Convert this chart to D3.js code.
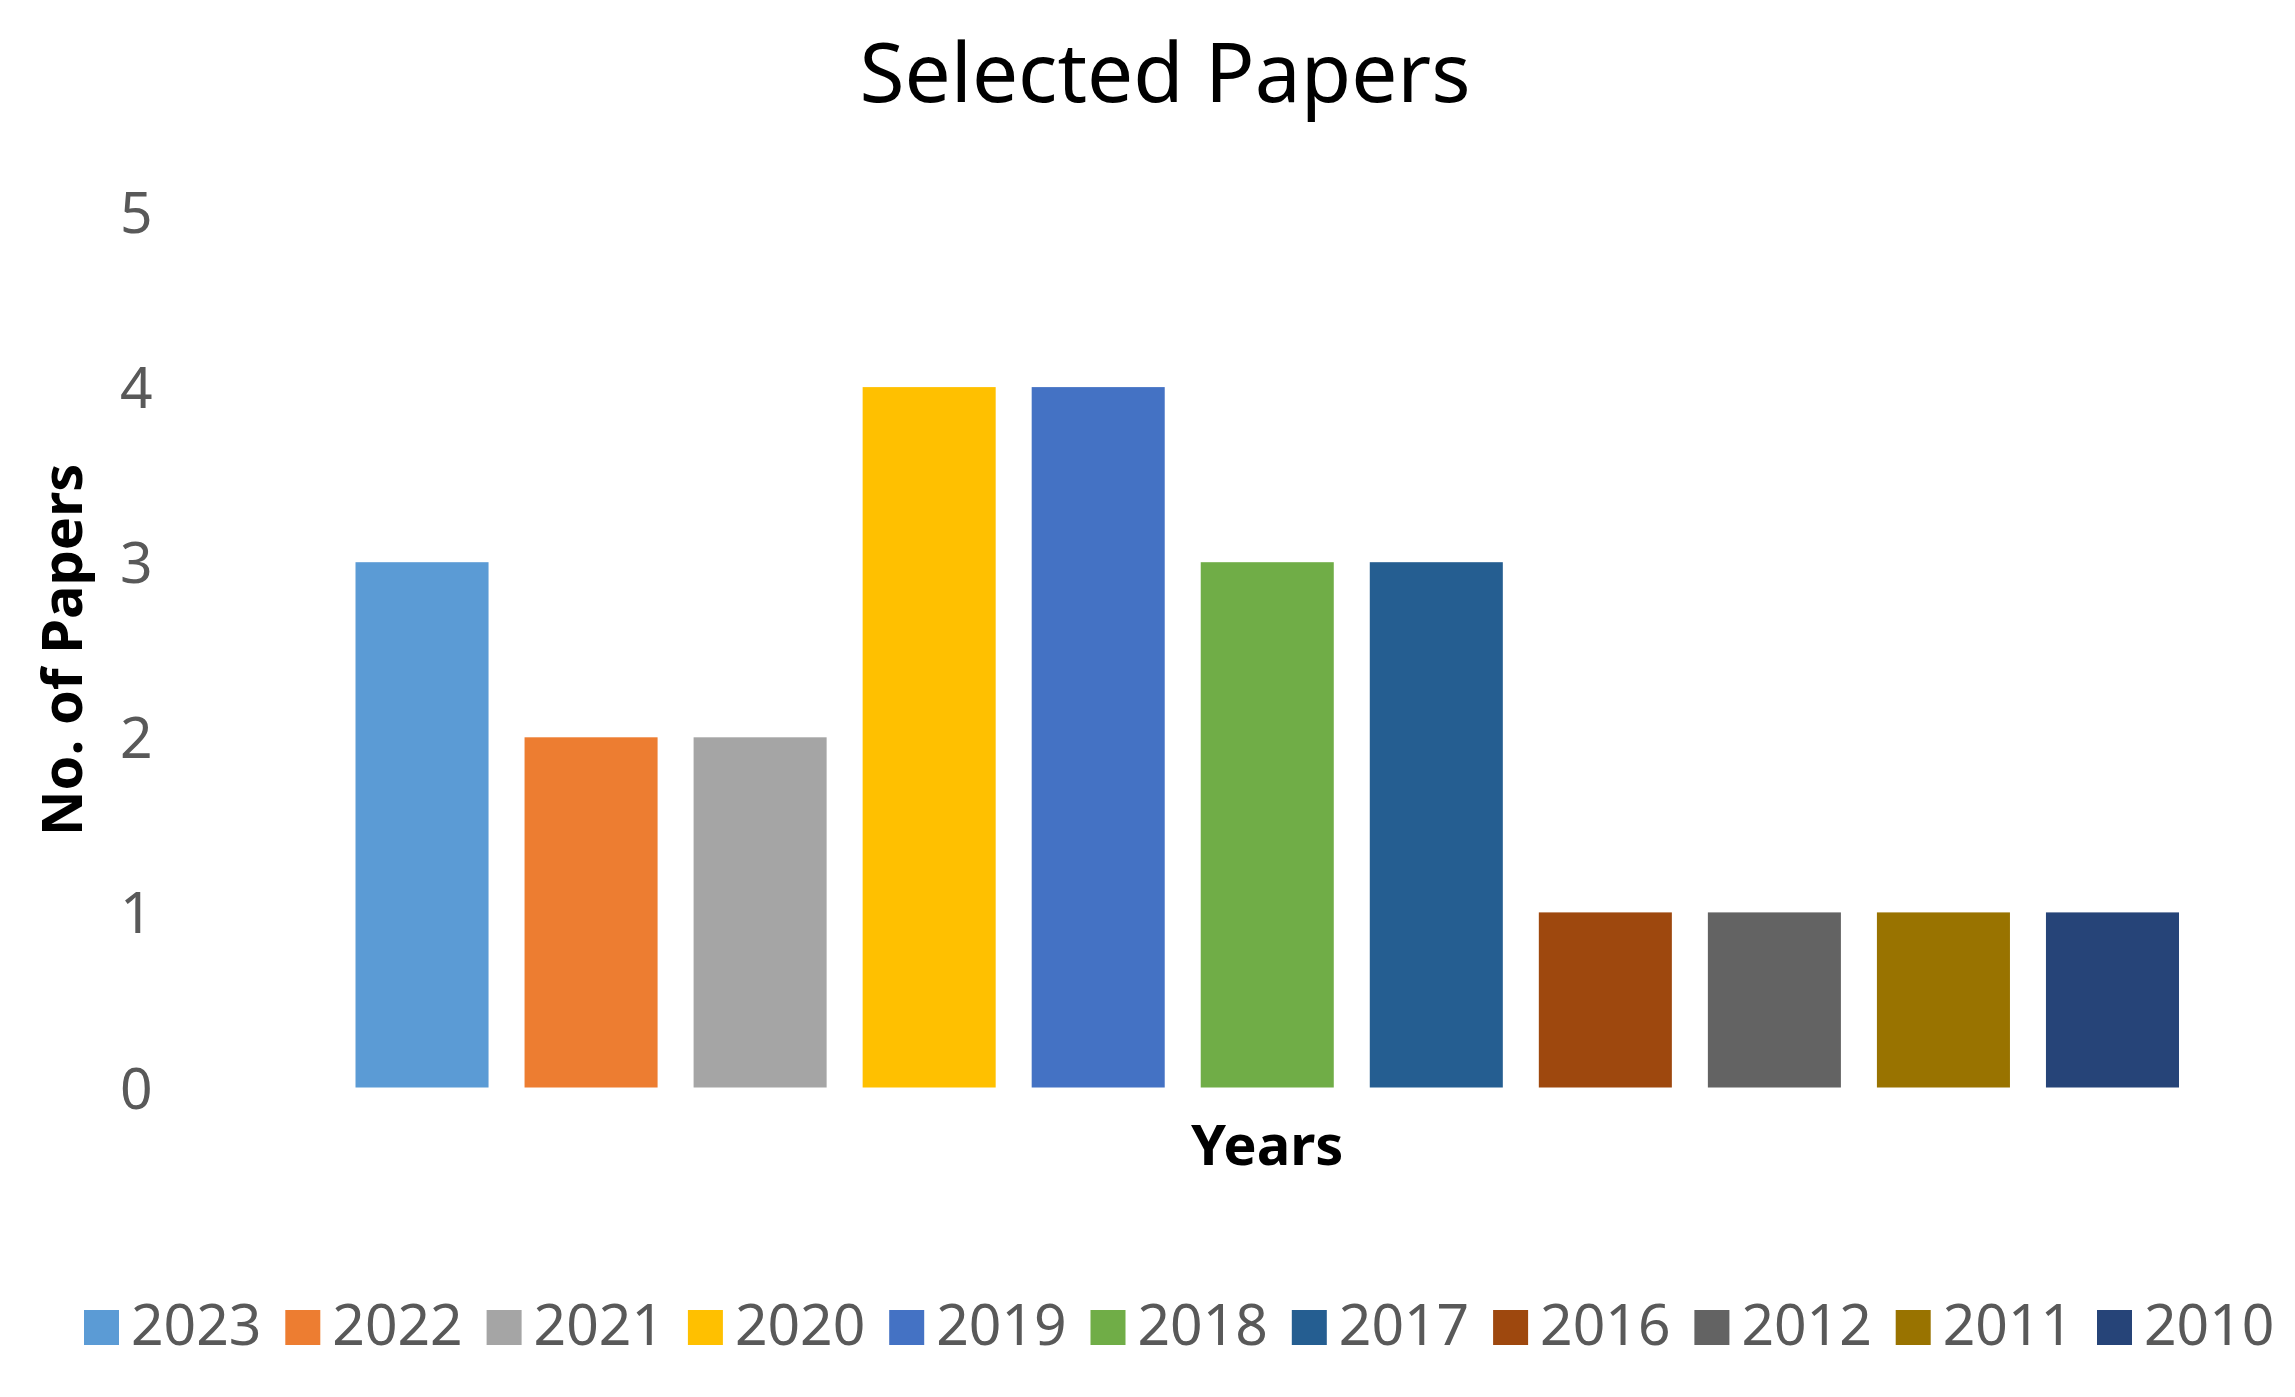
<!DOCTYPE html>
<html>
<head>
<meta charset="utf-8">
<script src="https://cdn.jsdelivr.net/npm/d3@7"></script>
<style>
  html, body { margin: 0; padding: 0; background: #fff; }
  svg { display: block; }
</style>
</head>
<body>
<svg id="chart" width="2295" height="1397"></svg>
<script>
// ---- Data ----
const years = ["2023", "2022", "2021", "2020", "2019", "2018", "2017", "2016", "2012", "2011", "2010"];
const papers = [3, 2, 2, 4, 4, 3, 3, 1, 1, 1, 1];
const colors = ["#5B9BD5", "#ED7D31", "#A5A5A5", "#FFC000", "#4472C4", "#70AD47", "#255E91", "#9E480E", "#636363", "#997300", "#264478"];
const yTicks = [0, 1, 2, 3, 4, 5];
const titleText = "Selected Papers";
const xTitle = "Years";
const yTitle = "No. of Papers";

const data = years.map((y, i) => ({ year: y, value: papers[i], color: colors[i] }));

const svg = d3.select("#chart");
const W = 2295, H = 1397;
svg.append("rect").attr("width", W).attr("height", H).attr("fill", "#fff");

const plot = { left: 337.5, right: 2197, top: 212, bottom: 1087.5 };

const x = d3.scaleBand()
  .domain(years)
  .range([plot.left, plot.right])
  .paddingInner(0.213)
  .paddingOuter(0.1065);

const y = d3.scaleLinear()
  .domain([0, 5])
  .range([plot.bottom, plot.top]);

const font = "'Noto Sans', 'Open Sans', sans-serif";

// Title
svg.append("text")
  .attr("x", 1165)
  .attr("y", 102)
  .attr("text-anchor", "middle")
  .attr("font-family", font)
  .attr("font-size", 82)
  .attr("fill", "#000")
  .text(titleText);

// Y axis (labels only)
const yAxis = d3.axisLeft(y).tickValues(yTicks).tickSize(0).tickPadding(0).tickFormat(d3.format("d"));
const yG = svg.append("g")
  .attr("transform", `translate(${plot.left - 185},0)`)
  .call(yAxis);
yG.select(".domain").remove();
yG.selectAll("text")
  .attr("font-family", font)
  .attr("font-size", 57)
  .attr("fill", "#595959")
  .attr("dy", "0.36em");

// Bars
svg.append("g")
  .selectAll("rect")
  .data(data)
  .join("rect")
  .attr("x", d => x(d.year))
  .attr("y", d => y(d.value))
  .attr("width", x.bandwidth())
  .attr("height", d => y(0) - y(d.value))
  .attr("fill", d => d.color);

// Axis titles
svg.append("text")
  .attr("x", (plot.left + plot.right) / 2)
  .attr("y", 1165)
  .attr("text-anchor", "middle")
  .attr("font-family", font)
  .attr("font-weight", "bold")
  .attr("font-size", 56)
  .attr("fill", "#000")
  .text(xTitle);

svg.append("text")
  .attr("transform", `translate(82,${(plot.top + plot.bottom) / 2}) rotate(-90)`)
  .attr("text-anchor", "middle")
  .attr("font-family", font)
  .attr("font-weight", "bold")
  .attr("font-size", 56)
  .attr("fill", "#000")
  .text(yTitle);

// Legend
const lx = d3.scalePoint().domain(years).range([84, 2097]);
const legend = svg.append("g")
  .selectAll("g")
  .data(data)
  .join("g")
  .attr("transform", d => `translate(${lx(d.year)},1310)`);
legend.append("rect")
  .attr("width", 35)
  .attr("height", 35)
  .attr("fill", d => d.color);
legend.append("text")
  .attr("x", 47)
  .attr("y", 35)
  .attr("font-family", font)
  .attr("font-size", 57)
  .attr("fill", "#595959")
  .text(d => d.year);
</script>
</body>
</html>
